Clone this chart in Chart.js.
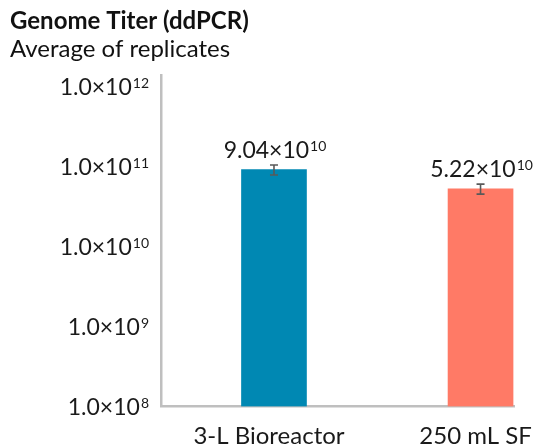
<!DOCTYPE html>
<html>
<head>
<meta charset="utf-8">
<script src="https://cdn.jsdelivr.net/npm/chart.js@4/dist/chart.umd.min.js"></script>
<style>
  html, body { margin: 0; padding: 0; background: #fff; }
  #wrap { width: 537px; height: 447px; }
</style>
</head>
<body>
<div id="wrap"><canvas id="c" width="537" height="447"></canvas></div>
<script>
// Genome titer per production scale (vg/mL), with replicate spread
const categories = ['3-L Bioreactor', '250 mL SF'];
const titers = [9.04e10, 5.22e10];
const titerErrors = [1.3e10, 0.75e10];
const yTickValues = [1e8, 1e9, 1e10, 1e11, 1e12];
const barColors = ['#0088B3', '#FF7A66'];
const chartTitle = 'Genome Titer (ddPCR)';
const chartSubtitle = 'Average of replicates';

const FONT = 'Lato, "Noto Sans", sans-serif';
const TEXT = '#1a1a1a';

// Split a value into "m.mm×10" and its exponent
function sciParts(v, digits) {
  const e = Math.floor(Math.log10(v) + 1e-9);
  const m = v / Math.pow(10, e);
  return [m.toFixed(digits) + '\u00d710', String(e)];
}

// Draw scientific notation with a raised exponent
function drawSci(ctx, v, digits, x, y, align, size, supSize) {
  const [base, exp] = sciParts(v, digits);
  ctx.font = size + 'px ' + FONT;
  const wb = ctx.measureText(base).width;
  ctx.font = supSize + 'px ' + FONT;
  const we = ctx.measureText(exp).width;
  const total = wb + we + 1;
  let x0 = x;
  if (align === 'right') x0 = x - total;
  else if (align === 'center') x0 = x - total / 2;
  ctx.textAlign = 'left';
  ctx.textBaseline = 'alphabetic';
  ctx.fillStyle = TEXT;
  ctx.font = size + 'px ' + FONT;
  ctx.fillText(base, x0, y);
  ctx.font = supSize + 'px ' + FONT;
  ctx.fillText(exp, x0 + wb + 1, y - size * 0.3);
}

const annotations = {
  id: 'annotations',
  afterDatasetsDraw(chart) {
    const ctx = chart.ctx;
    const yScale = chart.scales.y;
    const meta = chart.getDatasetMeta(0);
    ctx.save();
    // error bars
    ctx.strokeStyle = '#595959';
    ctx.lineWidth = 1.6;
    meta.data.forEach((bar, i) => {
      const yTop = yScale.getPixelForValue(titers[i] + titerErrors[i]);
      const yBot = yScale.getPixelForValue(titers[i] - titerErrors[i]);
      const x = bar.x;
      ctx.beginPath();
      ctx.moveTo(x, yTop); ctx.lineTo(x, yBot);
      ctx.moveTo(x - 4, yTop); ctx.lineTo(x + 4, yTop);
      ctx.moveTo(x - 4, yBot); ctx.lineTo(x + 4, yBot);
      ctx.stroke();
      // value label above the error bar
      drawSci(ctx, titers[i], 2, x + 1, yTop - 7, 'center', 23, 14);
    });
    // y tick labels
    yTickValues.forEach(v => {
      const py = yScale.getPixelForValue(v);
      drawSci(ctx, v, 1, 149, py + 8.5, 'right', 23, 14);
    });
    // headings
    ctx.textAlign = 'left';
    ctx.textBaseline = 'alphabetic';
    ctx.fillStyle = '#111';
    ctx.font = 'bold 24px ' + FONT;
    ctx.fillText(chartTitle, 10, 29);
    ctx.font = '24px ' + FONT;
    ctx.fillText(chartSubtitle, 10, 57);
    ctx.restore();
  }
};

new Chart(document.getElementById('c'), {
  type: 'bar',
  data: {
    datasets: [{
      data: categories.map((c, i) => ({ x: i, y: titers[i] })),
      backgroundColor: barColors,
      borderWidth: 0,
      barThickness: 65
    }]
  },
  options: {
    responsive: false,
    animation: false,
    layout: { padding: { left: 0, right: 23, top: 75, bottom: 0 } },
    plugins: { legend: { display: false }, tooltip: { enabled: false } },
    scales: {
      x: {
        type: 'linear',
        min: -0.547,
        max: 1.162,
        offset: false,
        grid: { display: false, drawTicks: false },
        border: { color: '#bfbfbf', width: 2.5 },
        afterBuildTicks: s => { s.ticks = categories.map((_, i) => ({ value: i })); },
        ticks: {
          callback: v => categories[v] ?? '',
          font: { family: FONT, size: 24 },
          color: TEXT,
          labelOffset: -5,
          padding: 15,
          autoSkip: false,
          maxRotation: 0
        },
        afterFit: s => { s.height = 40.5; s.paddingLeft = 0; s.paddingRight = 0; }
      },
      y: {
        type: 'logarithmic',
        min: 1e8,
        max: 1.373e12,
        grid: { display: false, drawTicks: false },
        border: { color: '#bfbfbf', width: 2.5 },
        afterBuildTicks: s => { s.ticks = yTickValues.map(v => ({ value: v })); },
        ticks: { display: false },
        afterFit: s => { s.width = 161; s.paddingTop = 0; s.paddingBottom = 0; }
      }
    }
  },
  plugins: [annotations]
});
</script>
</body>
</html>
